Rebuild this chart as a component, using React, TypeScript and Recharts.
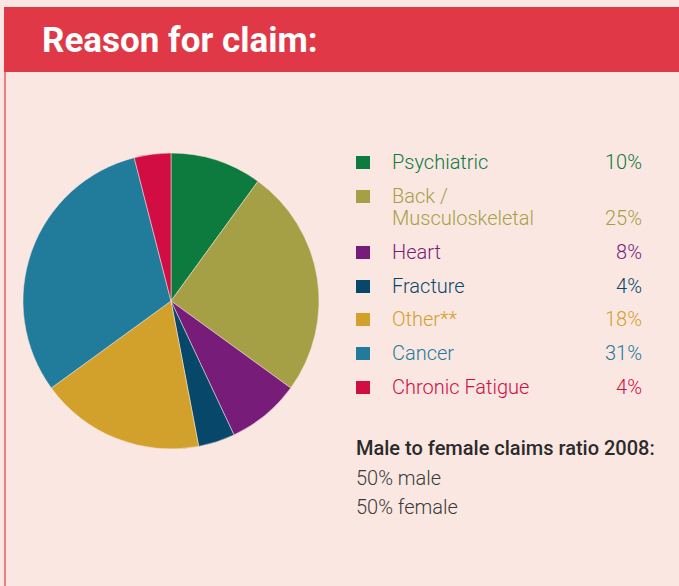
import { PieChart, Pie, Cell, Legend } from "recharts";

const categories = [
  "Psychiatric",
  "Back /\nMusculoskeletal",
  "Heart",
  "Fracture",
  "Other**",
  "Cancer",
  "Chronic Fatigue",
];
const shares = [10, 25, 8, 4, 18, 31, 4];
const colors = [
  "#0D7A3E",
  "#A5A046",
  "#781C7A",
  "#07476A",
  "#D2A12B",
  "#217C9C",
  "#D20D44",
];
const ratioTitle = "Male to female claims ratio 2008:";
const ratioLines = ["50% male", "50% female"];

const data = categories.map((name, i) => ({ name, value: shares[i] }));

const BG = "#FBE7E2";
const FONT = "Roboto, 'Open Sans', sans-serif";

const LegendBox = () => (
  <div style={{ fontFamily: FONT, width: 286 }}>
    {data.map((d, i) => (
      <div
        key={d.name}
        style={{
          display: "flex",
          alignItems: "flex-start",
          lineHeight: "22.5px",
          marginBottom: 11.2,
          color: colors[i],
          fontSize: 20,
          fontWeight: 300,
        }}
      >
        <span
          style={{
            width: 14,
            height: 13,
            background: colors[i],
            marginTop: 5,
            flexShrink: 0,
          }}
        />
        <span style={{ marginLeft: 22, whiteSpace: "pre-line", flex: 1, textAlign: "left" }}>
          {d.name}
        </span>
        <span style={{ alignSelf: "flex-end", textAlign: "right" }}>{d.value}%</span>
      </div>
    ))}
    <div
      style={{
        marginTop: 36,
        fontSize: 20,
        fontWeight: 500,
        color: "#2B2B2B",
        lineHeight: "29.5px",
        textAlign: "left",
        whiteSpace: "nowrap",
      }}
    >
      {ratioTitle}
    </div>
    {ratioLines.map((t) => (
      <div
        key={t}
        style={{
          fontSize: 20,
          fontWeight: 300,
          color: "#3A3A3A",
          lineHeight: "29.5px",
          textAlign: "left",
        }}
      >
        {t}
      </div>
    ))}
  </div>
);

export default function App() {
  return (
    <div
      style={{
        position: "absolute",
        left: 0,
        top: 0,
        width: 679,
        height: 586,
        background: BG,
        overflow: "hidden",
      }}
    >
      <div
        style={{
          position: "absolute",
          left: 4,
          top: 7,
          width: 675,
          height: 65,
          background: "#E03846",
        }}
      />
      <div
        style={{
          position: "absolute",
          left: 4,
          top: 72,
          width: 2,
          height: 514,
          background: "#F07F85",
        }}
      />
      <div
        style={{
          position: "absolute",
          left: 42,
          top: 18,
          fontFamily: FONT,
          fontWeight: 700,
          fontSize: 35,
          lineHeight: "46px",
          color: "#FFFFFF",
        }}
      >
        Reason for claim:
      </div>
      <div style={{ position: "absolute", left: 0, top: 0 }}>
        <PieChart width={679} height={586} margin={{ top: 0, right: 0, bottom: 0, left: 0 }}>
          <Pie
            data={data}
            dataKey="value"
            nameKey="name"
            cx={171}
            cy={301}
            outerRadius={148}
            startAngle={90}
            endAngle={-270}
            stroke={BG}
            strokeWidth={0.5}
            isAnimationActive={false}
          >
            {data.map((d, i) => (
              <Cell key={d.name} fill={colors[i]} />
            ))}
          </Pie>
          <Legend
            content={<LegendBox />}
            wrapperStyle={{ position: "absolute", left: 356, top: 151, width: 286 }}
          />
        </PieChart>
      </div>
    </div>
  );
}
